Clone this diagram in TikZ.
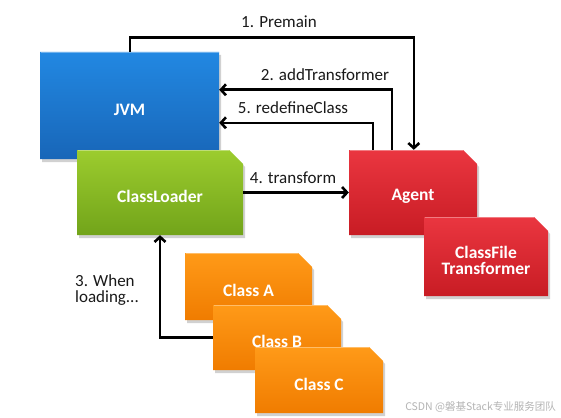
\documentclass[tikz,border=0pt]{standalone}
\usepackage{fontspec}
\setmainfont{Carlito}
\newfontfamily\cjkfont{Noto Sans CJK SC}
\usetikzlibrary{arrows.meta}
\definecolor{bluetop}{HTML}{2288E2}
\definecolor{bluebot}{HTML}{1866B8}
\definecolor{greentop}{HTML}{9CCC2E}
\definecolor{greenbot}{HTML}{72A41A}
\definecolor{redtop}{HTML}{EA3640}
\definecolor{redbot}{HTML}{C81C24}
\definecolor{orangetop}{HTML}{FF9A18}
\definecolor{orangebot}{HTML}{F07C00}
\definecolor{wmgray}{HTML}{B4B4B4}
\newcommand\chbox[9]{%
  % #1 name, #2 x1, #3 y1, #4 x2, #5 y2, #6 top, #7 bottom, #8 chamfer, #9 text
  \path[fill=black,opacity=0.18] (#2+2,#3+3) -- (#4+2-#8,#3+3) -- (#4+2,#3+3+#8) -- (#4+2,#5+3) -- (#2+2,#5+3) -- cycle;
  \path[top color=#6,bottom color=#7] (#2,#3) -- (#4-#8,#3) -- (#4,#3+#8) -- (#4,#5) -- (#2,#5) -- cycle;
  \path[draw=white,opacity=0.35,line width=1pt] (#2+0.5,#3+0.8) -- (#4-#8,#3+0.8);
  \node[inner sep=0pt,minimum width=#4-#2,minimum height=#5-#3] (#1) at ({(#2+#4)/2},{(#3+#5)/2}) {};
  \node[boxtext] (#1-text) at ({(#2+#4)/2},{(#3+#5)/2+4}) {#9};
}
\begin{document}
\begin{tikzpicture}[x=1pt,y=-1pt,
  boxtext/.style={inner sep=0pt,text=white,font=\fontsize{17.5}{19}\selectfont\bfseries,align=center},
  lbl/.style={inner sep=0pt,font=\fontsize{17}{19}\selectfont,text=black!90},
  arr/.style={line width=2.6pt,-{Straight Barb[length=5pt,width=11pt,line width=2.6pt]}}]
\useasboundingbox[fill=white] (0,0) rectangle (561,417);

\chbox{jvm}{40}{52}{219}{159}{bluetop}{bluebot}{0}{JVM}
\chbox{classloader}{77}{150}{243}{235}{greentop}{greenbot}{14}{ClassLoader}
\chbox{agent}{349}{150}{477}{235}{redtop}{redbot}{14}{Agent}
\chbox{cft}{424}{217}{548}{296}{redtop}{redbot}{14}{ClassFile\\[-3pt]Transformer}
\chbox{classa}{185}{253}{312}{320}{orangetop}{orangebot}{14}{Class A}
\chbox{classb}{213}{305}{341}{370}{orangetop}{orangebot}{14}{Class B}
\chbox{classc}{255}{347}{383}{413}{orangetop}{orangebot}{14}{Class C}

% connectors
\draw[arr] ([xshift=90pt]jvm.north west) -- ++(0,-14) -| ([xshift=65pt]agent.north west);
\draw[arr] ([xshift=43pt]agent.north west) |- ([yshift=-38pt]jvm.north east);
\draw[arr] ([xshift=24pt]agent.north west) |- ([yshift=-71pt]jvm.north east);
\draw[arr] (classloader.east) -- (agent.west);
\draw[arr] (classb.west) -| (classloader.south);

% labels
\node[lbl] (l1) at (279,22) {1. Premain};
\node[lbl] (l2) at (325,75) {2. addTransformer};
\node[lbl] (l5) at (293,108) {5. redefineClass};
\node[lbl] (l4) at (293,178) {4. transform};
\node[lbl,align=left,anchor=west] (l3) at (75,290) {3. When\\[-3pt]loading...};

\node[inner sep=0pt,anchor=east,text=wmgray,font=\cjkfont\fontsize{10.5}{12}\selectfont] (wm) at (556,407) {CSDN @磐基Stack专业服务团队};
\end{tikzpicture}
\end{document}
